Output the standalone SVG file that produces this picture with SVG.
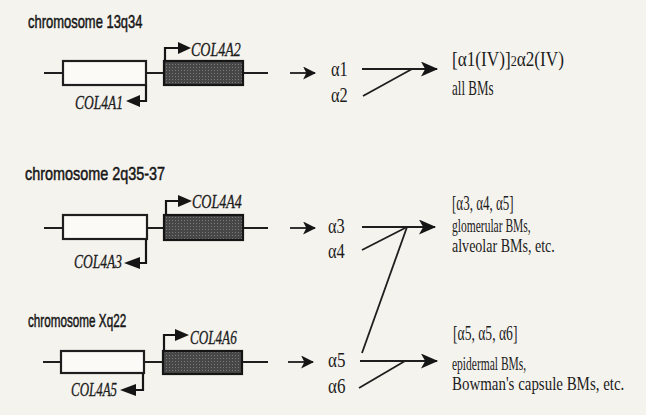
<svg xmlns="http://www.w3.org/2000/svg" width="646" height="415" viewBox="0 0 646 415">
<defs>
<pattern id="stip" width="3" height="3" patternUnits="userSpaceOnUse">
<rect width="3" height="3" fill="#474747"/>
<rect x="1" y="1" width="1" height="1" fill="#7a7a7a"/>
</pattern>
<marker id="dart" viewBox="0 0 12 12" refX="11" refY="6" markerWidth="13" markerHeight="13" markerUnits="userSpaceOnUse" orient="auto">
<path d="M0,0 L12,6 L0,12 L3,6 z" fill="#151515"/>
</marker>
<marker id="dartL" viewBox="0 0 16 14" refX="15" refY="7" markerWidth="18" markerHeight="15" markerUnits="userSpaceOnUse" orient="auto">
<path d="M0,0 L16,7 L0,14 L4,7 z" fill="#151515"/>
</marker>
</defs>
<style>
.bg{fill:#f5f3ee}
.chr{font-family:"Liberation Sans",Arial,sans-serif;font-size:18px;fill:#161616;stroke:#161616;stroke-width:0.5}
.gene{font-family:"Liberation Serif","Times New Roman",serif;font-style:italic;font-size:18px;fill:#1c1c1c;stroke:#1c1c1c;stroke-width:0.3}
.al{font-family:"Liberation Serif","Times New Roman",serif;font-size:20px;fill:#1c1c1c}
.res{font-family:"Liberation Serif","Times New Roman",serif;font-size:20px;fill:#1c1c1c}
.res2{font-family:"Liberation Serif","Times New Roman",serif;font-size:18px;fill:#1c1c1c}
.dna{stroke:#1e1e1e;stroke-width:2.2;fill:none}
.wbox{fill:#fbfaf6;stroke:#1e1e1e;stroke-width:2.2}
.dbox{fill:url(#stip);stroke:#151515;stroke-width:2.2}
.tss{stroke:#151515;stroke-width:2.2;fill:none}
.head{fill:#151515}
.con{stroke:#1e1e1e;stroke-width:1.8;fill:none}
.big{stroke:#1e1e1e;stroke-width:2.2;fill:none}
</style>
<rect class="bg" x="0" y="0" width="646" height="415"/>

<g id="locus-13q34">
<text class="chr" transform="translate(28,28) scale(0.72,1)">chromosome 13q34</text>
<line class="dna" x1="44" y1="73" x2="268" y2="73"/>
<rect class="wbox" x="63" y="61" width="83" height="24"/>
<rect class="dbox" x="164" y="61" width="79" height="24"/>
<path class="tss" d="M165,61 V48 H180"/>
<polygon class="head" points="178,42 191,48 178,54"/>
<text class="gene" transform="translate(191,56) scale(0.78,1)">COL4A2</text>
<path class="tss" d="M146,85 V101 H139"/>
<polygon class="head" points="126,101 140,95 140,107"/>
<text class="gene" transform="translate(75,109) scale(0.75,1)">COL4A1</text>
</g>

<g id="locus-2q35-37">
<text class="chr" transform="translate(25,180) scale(0.8,1)">chromosome 2q35-37</text>
<line class="dna" x1="44" y1="228" x2="268" y2="228"/>
<rect class="wbox" x="63" y="215" width="84" height="24"/>
<rect class="dbox" x="164" y="215" width="79" height="25"/>
<path class="tss" d="M166,215 V201 H180"/>
<polygon class="head" points="178,195 192,201 178,207"/>
<text class="gene" transform="translate(192,208) scale(0.78,1)">COL4A4</text>
<path class="tss" d="M146,239 V263 H139"/>
<polygon class="head" points="124,263 140,257 140,269"/>
<text class="gene" transform="translate(74,268) scale(0.75,1)">COL4A3</text>
</g>

<g id="locus-Xq22">
<text class="chr" transform="translate(28,327) scale(0.65,1)">chromosome Xq22</text>
<line class="dna" x1="43" y1="362" x2="268" y2="362"/>
<rect class="wbox" x="61" y="351" width="83" height="22"/>
<rect class="dbox" x="163" y="351" width="79" height="23"/>
<path class="tss" d="M164,351 V335 H177"/>
<polygon class="head" points="175,329 189,335 175,341"/>
<text class="gene" transform="translate(190,344) scale(0.73,1)">COL4A6</text>
<path class="tss" d="M143,373 V390 H135"/>
<polygon class="head" points="120,390 136,384 136,396"/>
<text class="gene" transform="translate(71,396) scale(0.72,1)">COL4A5</text>
</g>

<g id="chain-a1"><text class="al" transform="translate(331,76) scale(0.82,1)">α1</text></g>
<g id="chain-a2"><text class="al" transform="translate(331,102) scale(0.82,1)">α2</text></g>
<g id="chain-a3"><text class="al" transform="translate(328,233) scale(0.82,1)">α3</text></g>
<g id="chain-a4"><text class="al" transform="translate(328,258) scale(0.82,1)">α4</text></g>
<g id="chain-a5"><text class="al" transform="translate(328,367) scale(0.85,1)">α5</text></g>
<g id="chain-a6"><text class="al" transform="translate(328,393) scale(0.85,1)">α6</text></g>

<g id="network-1">
<text class="res" transform="translate(452,66) scale(0.86,1)">[α1(IV)]<tspan font-size="14">2</tspan>α2(IV)</text>
<text class="res" transform="translate(452,95) scale(0.65,1)">all BMs</text>
</g>
<g id="network-2">
<text class="res" transform="translate(452,210) scale(0.65,1)">[α3, α4, α5]</text>
<text class="res2" transform="translate(452,232) scale(0.64,1)">glomerular BMs,</text>
<text class="res2" transform="translate(452,252) scale(0.78,1)">alveolar BMs, etc.</text>
</g>
<g id="network-3">
<text class="res" transform="translate(453,340) scale(0.68,1)">[α5, α5, α6]</text>
<text class="res2" transform="translate(452,370) scale(0.64,1)">epidermal BMs,</text>
<text class="res2" transform="translate(452,390) scale(0.83,1)">Bowman's capsule BMs, etc.</text>
</g>

<g id="connectors">
<line class="con" x1="290" y1="73" x2="315" y2="73" marker-end="url(#dart)"/>
<line class="con" x1="290" y1="228" x2="315" y2="228" marker-end="url(#dart)"/>
<line class="con" x1="288" y1="362" x2="313" y2="362" marker-end="url(#dart)"/>
<line class="big" x1="362" y1="69" x2="437" y2="69" marker-end="url(#dartL)"/>
<line class="con" x1="363" y1="96" x2="412" y2="69"/>
<line class="big" x1="362" y1="227" x2="435" y2="227" marker-end="url(#dartL)"/>
<line class="con" x1="362" y1="250" x2="407" y2="227"/>
<line class="con" x1="362" y1="353" x2="407" y2="227"/>
<line class="big" x1="360" y1="361" x2="437" y2="361" marker-end="url(#dartL)"/>
<line class="con" x1="359" y1="388" x2="405" y2="361"/>
</g>
</svg>
